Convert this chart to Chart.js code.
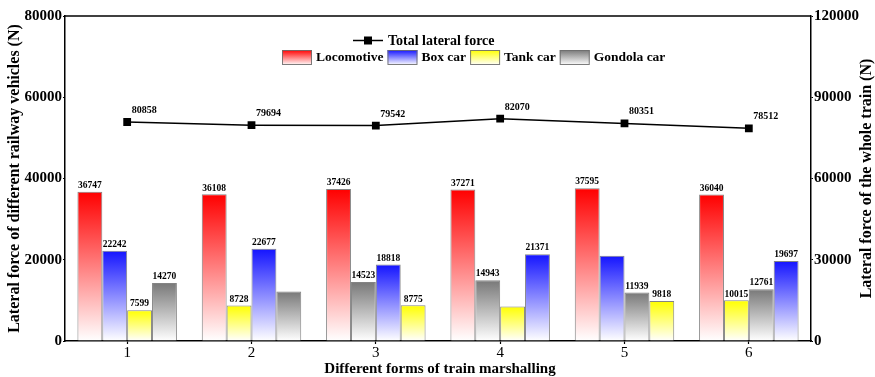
<!DOCTYPE html>
<html>
<head>
<meta charset="utf-8">
<script src="https://cdn.jsdelivr.net/npm/chart.js@4.4.1/dist/chart.umd.min.js"></script>
<style>
  html, body { margin: 0; padding: 0; background: #fff; }
  canvas { display: block; }
</style>
</head>
<body>
<canvas id="chart" width="875" height="377"></canvas>
<script>
// Lateral force per vehicle type for each train marshalling form (N)
const categories = ['1', '2', '3', '4', '5', '6'];
const locomotive = [36747, 36108, 37426, 37271, 37595, 36040];
const boxCar     = [22242, 22677, 18818, 21371, 20999, 19697];
const tankCar    = [7599, 8728, 8775, 8485, 9818, 10015];
const gondolaCar = [14270, 12181, 14523, 14943, 11939, 12761];
// Total lateral force of the whole train (N)
const totalForce = [80858, 79694, 79542, 82070, 80351, 78512];

// Bar order inside each group, left to right
const barOrder = [
  ['loco', 'box', 'tank', 'gondola'],
  ['loco', 'tank', 'box', 'gondola'],
  ['loco', 'gondola', 'box', 'tank'],
  ['loco', 'gondola', 'tank', 'box'],
  ['loco', 'box', 'gondola', 'tank'],
  ['loco', 'tank', 'gondola', 'box']
];
// Bars printed without a value label: [group index, vehicle key]
const unlabeled = [[1, 'gondola'], [3, 'tank'], [4, 'box']];

const leftTicks = [0, 20000, 40000, 60000, 80000];
const rightTicks = [0, 30000, 60000, 90000, 120000];

const seriesByKey = { loco: locomotive, box: boxCar, tank: tankCar, gondola: gondolaCar };
const vehicleNames = { loco: 'Locomotive', box: 'Box car', tank: 'Tank car', gondola: 'Gondola car' };
const vehicleColors = { loco: '255,0,0', box: '20,20,255', tank: '255,255,0', gondola: '120,120,120' };

const SERIF = '"Liberation Serif", "Times New Roman", serif';

function barGradient(ctx) {
  const chart = ctx.chart;
  const key = ctx.dataset.typeKeys ? ctx.dataset.typeKeys[ctx.dataIndex] : 'loco';
  const rgb = vehicleColors[key];
  if (!chart.chartArea || ctx.type !== 'data') return 'rgb(' + rgb + ')';
  const ys = chart.scales.y;
  const top = ys.getPixelForValue(ctx.raw);
  const bottom = ys.getPixelForValue(0);
  if (!isFinite(top) || !isFinite(bottom) || top === bottom) return 'rgb(' + rgb + ')';
  const g = chart.ctx.createLinearGradient(0, top, 0, bottom);
  g.addColorStop(0, 'rgb(' + rgb + ')');
  g.addColorStop(1, 'rgb(255,255,255)');
  return g;
}

const slotDatasets = [0, 1, 2, 3].map(slot => ({
  type: 'bar',
  label: 'slot ' + (slot + 1),
  data: categories.map((_, i) => seriesByKey[barOrder[i][slot]][i]),
  typeKeys: categories.map((_, i) => barOrder[i][slot]),
  backgroundColor: barGradient,
  borderColor: 'rgba(110,110,110,0.85)',
  borderWidth: 1,
  yAxisID: 'y',
  order: 1,
  categoryPercentage: 0.8,
  barPercentage: 1.0
}));

const totalDataset = {
  type: 'line',
  label: 'Total lateral force',
  data: totalForce,
  yAxisID: 'y1',
  borderColor: '#000',
  borderWidth: 1.5,
  pointStyle: 'rect',
  pointRadius: 5.5,
  pointBackgroundColor: '#000',
  pointBorderColor: '#000',
  pointBorderWidth: 0,
  tension: 0,
  order: 0
};

// Value labels on bars and line points, plus frame, titles and legend
const decorations = {
  id: 'decorations',
  afterDatasetsDraw(chart) {
    const c = chart.ctx;
    c.save();
    c.fillStyle = '#000';
    c.font = 'bold 9.5px ' + SERIF;
    c.textAlign = 'center';
    c.textBaseline = 'bottom';
    chart.data.datasets.forEach((ds, di) => {
      if (ds.type !== 'bar') return;
      chart.getDatasetMeta(di).data.forEach((el, i) => {
        const key = ds.typeKeys[i];
        if (unlabeled.some(u => u[0] === i && u[1] === key)) return;
        c.fillText(String(ds.data[i]), el.x, el.y - 1.5);
      });
    });
    const lineIdx = chart.data.datasets.indexOf(totalDataset);
    c.font = 'bold 10px ' + SERIF;
    c.textAlign = 'left';
    chart.getDatasetMeta(lineIdx).data.forEach((el, i) => {
      c.fillText(String(totalForce[i]), el.x + 4.5, el.y - 6.5);
    });
    c.restore();
  },
  afterDraw(chart) {
    const c = chart.ctx;
    const a = chart.chartArea;
    c.save();
    // top frame line
    c.strokeStyle = '#000';
    c.lineWidth = 1.5;
    c.beginPath();
    c.moveTo(a.left, a.top);
    c.lineTo(a.right, a.top);
    c.stroke();

    // axis titles
    c.fillStyle = '#000';
    c.textAlign = 'center';
    c.textBaseline = 'middle';
    c.font = 'bold 16px ' + SERIF;
    const midY = (a.top + a.bottom) / 2;
    c.save();
    c.translate(15, midY);
    c.rotate(-Math.PI / 2);
    c.fillText('Lateral force of different railway vehicles (N)', 0, 0);
    c.restore();
    c.save();
    c.translate(867, midY);
    c.rotate(-Math.PI / 2);
    c.fillText('Lateral force of the whole train (N)', 0, 0);
    c.restore();
    c.font = 'bold 15px ' + SERIF;
    c.fillText('Different forms of train marshalling', (a.left + a.right) / 2 + 2, 369);

    // legend, first row: line series
    const r1y = 40.5;
    c.strokeStyle = '#000';
    c.lineWidth = 1.5;
    c.beginPath();
    c.moveTo(353, r1y);
    c.lineTo(383, r1y);
    c.stroke();
    c.fillRect(368 - 4, r1y - 4, 8, 8);
    c.textAlign = 'left';
    c.font = 'bold 14px ' + SERIF;
    c.fillText(totalDataset.label, 388, r1y + 0.5);

    // legend, second row: vehicle types
    const boxTop = 50, boxH = 15, boxW = 30;
    let x = 282;
    c.font = 'bold 13.5px ' + SERIF;
    ['loco', 'box', 'tank', 'gondola'].forEach(key => {
      const g = c.createLinearGradient(0, boxTop, 0, boxTop + boxH);
      g.addColorStop(0, 'rgb(' + vehicleColors[key] + ')');
      g.addColorStop(1, 'rgb(255,255,255)');
      c.fillStyle = g;
      c.fillRect(x, boxTop, boxW, boxH);
      c.strokeStyle = 'rgba(110,110,110,0.9)';
      c.lineWidth = 1;
      c.strokeRect(x + 0.5, boxTop + 0.5, boxW - 1, boxH - 1);
      c.fillStyle = '#000';
      const label = vehicleNames[key];
      c.fillText(label, x + boxW + 4, boxTop + boxH / 2 + 0.5);
      x += boxW + 4 + c.measureText(label).width + 4;
    });
    c.restore();
  }
};

const plainNumber = v => String(v);

new Chart(document.getElementById('chart'), {
  data: {
    labels: categories,
    datasets: [...slotDatasets, totalDataset]
  },
  options: {
    responsive: false,
    animation: false,
    layout: { padding: { top: 16, left: 0, right: 0, bottom: 0 } },
    plugins: {
      legend: { display: false },
      tooltip: { enabled: false }
    },
    scales: {
      x: {
        type: 'category',
        offset: true,
        grid: { display: true, drawOnChartArea: false, offset: false, tickLength: 3, color: '#000', tickWidth: 1.2 },
        border: { display: true, color: '#000', width: 1.5 },
        ticks: { color: '#000', font: { family: SERIF, size: 15 }, padding: 0 },
        afterFit: s => { s.height = 36; }
      },
      y: {
        position: 'left',
        min: 0,
        max: 80000,
        afterBuildTicks: s => { s.ticks = leftTicks.map(v => ({ value: v })); },
        grid: { display: true, drawOnChartArea: false, tickLength: 2, color: '#000', tickWidth: 1.2 },
        border: { display: true, color: '#000', width: 1.5 },
        ticks: { color: '#000', font: { family: SERIF, size: 15, weight: 'bold' }, padding: 1, callback: plainNumber },
        afterFit: s => { s.width = 65; }
      },
      y1: {
        position: 'right',
        min: 0,
        max: 120000,
        afterBuildTicks: s => { s.ticks = rightTicks.map(v => ({ value: v })); },
        grid: { display: true, drawOnChartArea: false, tickLength: 2, color: '#000', tickWidth: 1.2 },
        border: { display: true, color: '#000', width: 1.5 },
        ticks: { color: '#000', font: { family: SERIF, size: 15, weight: 'bold' }, padding: 1, callback: plainNumber },
        afterFit: s => { s.width = 64; }
      }
    }
  },
  plugins: [decorations]
});
</script>
</body>
</html>
